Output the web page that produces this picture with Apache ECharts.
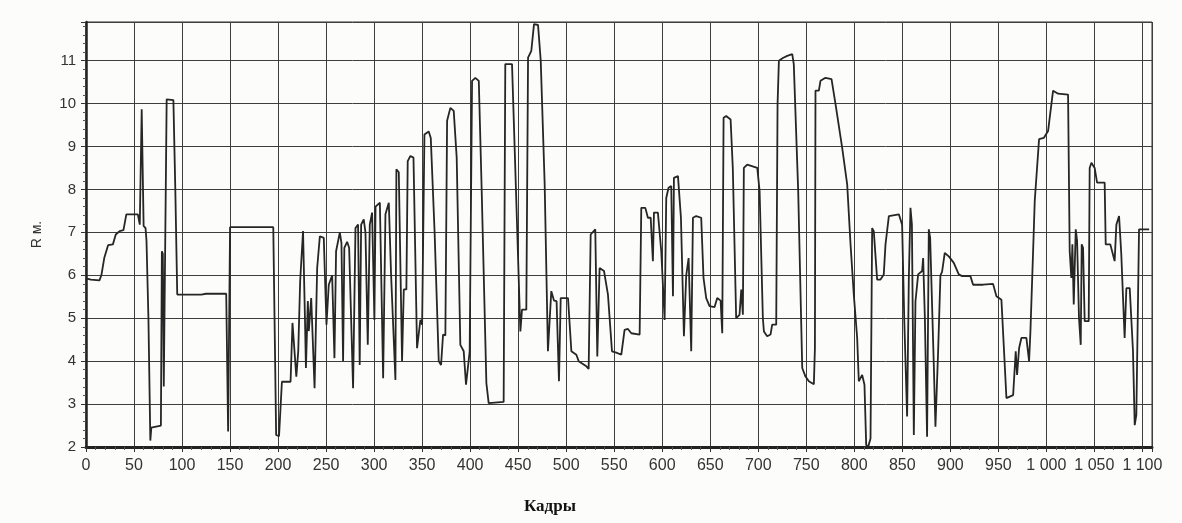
<!DOCTYPE html>
<html>
<head>
<meta charset="utf-8">
<script src="https://cdn.jsdelivr.net/npm/echarts@6/dist/echarts.min.js"></script>
<style>
  html, body { margin: 0; padding: 0; background: #fcfcfb; }
  #chart { width: 1182px; height: 523px; }
</style>
</head>
<body>
<div id="chart"></div>
<script>
// кадры (frame numbers) and R, m
var frames = [
  0, 5, 14, 16, 19, 23, 28, 31, 35, 39, 42, 54, 56, 58, 60, 62, 63, 65, 67, 68,
  70, 78, 79, 80, 81, 84, 91, 93, 95, 120, 125, 146, 148, 150, 195, 198, 201, 204, 213, 215,
  217, 219, 221, 223, 226, 228, 229, 231, 232, 234.5, 238, 240.7, 243.5, 247.6, 250.4, 252.8, 256.3, 258.7, 260.4, 264.3,
  266, 267.7, 269, 271.9, 274, 278.1, 280.6, 283.3, 285, 286.5, 289.2, 291, 293.4, 295.5, 297.9, 300.3, 301.5, 306, 309.4, 311.8,
  315.3, 317.7, 322.2, 323.2, 325.7, 329.1, 330.9, 333.6, 335, 337.8, 341, 344.7, 348.2, 350, 352.4, 356.9, 359, 363, 367.3, 369.7,
  371.8, 374.2, 376, 379.4, 382.9, 386, 389.8, 393.3, 395.7, 397.4, 399.5, 402, 405.4, 409, 412, 416.9, 419.3, 434.9, 436.6, 443.6,
  447, 452.3, 454, 458.5, 460.3, 463.7, 466.5, 470.7, 473.5, 477.6, 481, 484.5, 487.3, 490, 492.5, 494.3, 501.9, 505.4, 510.6, 513,
  521, 523.4, 525.5, 530.3, 532.4, 534.8, 539.4, 543.5, 547.7, 552.2, 557.4, 560.8, 564.3, 567.8, 576.5, 578.2, 582.4, 585.1, 588, 590.3,
  591.4, 595.5, 599, 602.5, 604.2, 606.6, 609.4, 611.2, 612.2, 616.4, 619.5, 622.6, 625, 627.5, 630.2, 632, 635.4, 640.6, 643, 645.8,
  649.3, 654.5, 657.3, 660.8, 662.5, 663.9, 666.6, 671.2, 673.5, 677, 680.5, 682.3, 684, 685, 688.5, 699, 701.4, 704.8, 705.9, 709.3,
  712.8, 714.5, 718.7, 720.1, 721.5, 725.6, 730.2, 735.4, 737, 741.6, 745.8, 749.2, 752.7, 757.9, 759, 759.6, 763.1, 764.8, 770, 776.3,
  780.5, 787.4, 792.6, 796.1, 799.5, 803, 804.7, 808.2, 810.6, 812.4, 814.4, 816.9, 818.6, 820.3, 823.8, 827.3, 830.7, 832.5, 836, 846.4,
  849.8, 852, 855, 856.8, 858.5, 860, 862, 863.7, 866.5, 870.6, 871.7, 873.5, 875.8, 877.6, 879, 882.8, 884.5, 887.3, 889.7, 891.4,
  894.2, 898.4, 903.6, 908.8, 912.3, 920.9, 923.7, 934.1, 944.5, 948, 953.2, 955.6, 958.4, 960.2, 965.4, 968.1, 969.5, 971.6, 974, 979.2,
  982, 983.4, 986.2, 987.9, 990.3, 992.4, 997.3, 1001.8, 1003.5, 1007, 1012.2, 1022.6, 1024.3, 1026, 1027.1, 1028.5, 1030.6, 1032, 1034, 1035.8,
  1036.8, 1038.2, 1039.9, 1044.1, 1045.1, 1046.9, 1050.3, 1052.8, 1060.7, 1061.8, 1066.6, 1069.4, 1071.1, 1072.9, 1075.7, 1078, 1081.5, 1083.3, 1086.8, 1090.2,
  1092, 1093.7, 1095.4, 1096.5, 1107
];
var rValues = [
  5.93, 5.9, 5.88, 6.0, 6.4, 6.7, 6.72, 6.95, 7.03, 7.05, 7.42, 7.42, 7.18, 9.87, 7.15, 7.1, 6.8, 5.0, 2.15, 2.45,
  2.47, 2.5, 6.56, 6.5, 3.41, 10.1, 10.08, 8.0, 5.55, 5.55, 5.57, 5.57, 2.36, 7.12, 7.12, 2.28, 2.25, 3.52, 3.52, 4.89,
  4.89, 3.64, 4.23, 5.86, 7.03, 5.0, 3.84, 5.4, 4.7, 5.47, 3.37, 6.17, 6.91, 6.87, 4.85, 5.78, 6.0, 4.07, 6.56, 7.0,
  6.75, 4.0, 6.64, 6.78, 6.64, 3.37, 7.1, 7.18, 3.91, 7.18, 7.3, 7.0, 4.38, 7.18, 7.46, 4.96, 7.6, 7.69, 3.6, 7.42,
  7.69, 6.0, 3.56, 8.47, 8.4, 4.0, 5.67, 5.67, 8.66, 8.78, 8.74, 4.3, 4.96, 4.85, 9.28, 9.35, 9.2, 7.0, 4.0, 3.91,
  4.62, 4.6, 9.6, 9.9, 9.83, 8.74, 4.38, 4.23, 3.45, 3.41, 4.22, 10.53, 10.6, 10.53, 8.0, 3.49, 3.02, 3.05, 10.92, 10.92,
  8.5, 4.69, 5.2, 5.2, 11.07, 11.23, 11.85, 11.83, 11.0, 8.12, 4.23, 5.63, 5.41, 5.4, 3.53, 5.47, 5.47, 4.23, 4.15, 4.0,
  3.88, 3.82, 6.95, 7.07, 4.11, 6.17, 6.1, 5.55, 4.23, 4.2, 4.15, 4.73, 4.75, 4.65, 4.62, 7.57, 7.57, 7.34, 7.34, 6.33,
  7.46, 7.46, 6.56, 4.96, 7.8, 8.04, 8.08, 5.51, 8.27, 8.31, 7.34, 4.58, 6.0, 6.4, 4.23, 7.34, 7.38, 7.34, 5.94, 5.47,
  5.28, 5.26, 5.47, 5.41, 4.65, 9.67, 9.71, 9.63, 8.5, 5.0, 5.08, 5.67, 5.08, 8.5, 8.58, 8.5, 7.96, 5.0, 4.69, 4.58,
  4.62, 4.85, 4.85, 9.98, 11.0, 11.06, 11.11, 11.15, 10.92, 7.96, 3.84, 3.64, 3.53, 3.46, 4.3, 10.3, 10.3, 10.53, 10.6, 10.57,
  9.98, 8.97, 8.12, 6.72, 5.55, 4.54, 3.53, 3.68, 3.45, 2.05, 2.0, 2.2, 7.1, 7.03, 5.9, 5.9, 6.02, 6.72, 7.38, 7.42,
  7.18, 5.0, 2.71, 5.94, 7.57, 7.18, 2.28, 5.39, 6.02, 6.1, 6.4, 5.0, 2.24, 7.07, 6.87, 3.91, 2.47, 4.23, 6.0, 6.08,
  6.52, 6.44, 6.29, 6.02, 5.98, 5.98, 5.78, 5.78, 5.8, 5.51, 5.43, 4.38, 3.14, 3.18, 3.21, 4.23, 3.68, 4.3, 4.54, 4.54,
  4.0, 4.69, 6.56, 7.73, 8.5, 9.17, 9.2, 9.36, 9.67, 10.3, 10.23, 10.21, 6.56, 5.94, 6.72, 5.32, 7.07, 6.8, 5.0, 4.38,
  6.72, 6.64, 4.93, 4.93, 8.5, 8.62, 8.5, 8.16, 8.16, 6.72, 6.72, 6.48, 6.33, 7.18, 7.38, 6.5, 4.54, 5.7, 5.7, 4.23,
  2.51, 2.75, 2.77, 7.07, 7.07
];

var points = frames.map(function (f, i) { return [f, rValues[i]]; });

var myChart = echarts.init(document.getElementById('chart'));

var labelFont = { fontFamily: 'Liberation Sans, Arial, sans-serif', color: '#333' };

var option = {
  backgroundColor: '#fcfcfb',
  animation: false,
  grid: {
    left: 86, right: 30, top: 22, bottom: 76,
    show: true, borderColor: '#333', borderWidth: 1
  },
  xAxis: {
    type: 'value',
    min: 0, max: 1110, interval: 50,
    axisLine: { onZero: false, lineStyle: { color: '#222', width: 3 } },
    axisTick: { show: true, length: 5, lineStyle: { color: '#333', width: 1 } },
    minorTick: { show: true, splitNumber: 5, length: 3, lineStyle: { color: '#555' } },
    splitLine: { show: true, lineStyle: { color: '#3e3e3e', width: 1 } },
    axisLabel: Object.assign({
      margin: 11,
      fontSize: 16,
      showMaxLabel: false,
      formatter: function (v) {
        if (v % 50 !== 0) return '';
        return v >= 1000 ? String(v).replace(/^(\d)(\d{3})$/, '$1 $2') : String(v);
      }
    }, labelFont)
  },
  yAxis: {
    type: 'value',
    min: 2, max: 11.9, interval: 1,
    name: 'R м.',
    nameLocation: 'middle',
    nameGap: 42,
    nameRotate: 90,
    nameTextStyle: { fontFamily: 'Liberation Sans, Arial, sans-serif', fontSize: 14, color: '#333' },
    axisLine: { lineStyle: { color: '#222', width: 2.5 } },
    axisTick: { show: true, length: 5, lineStyle: { color: '#333', width: 1 } },
    minorTick: { show: true, splitNumber: 5, length: 3, lineStyle: { color: '#555' } },
    splitLine: { show: true, lineStyle: { color: '#3e3e3e', width: 1 } },
    axisLabel: Object.assign({
      margin: 10,
      fontSize: 15,
      showMaxLabel: false,
      formatter: function (v) { return Number.isInteger(v) ? String(v) : ''; }
    }, labelFont)
  },
  graphic: [{
    type: 'text',
    left: 524, top: 498,
    style: {
      text: 'Кадры',
      font: 'bold 17px "Liberation Serif", "Times New Roman", serif',
      fill: '#111'
    }
  }],
  series: [{
    type: 'line',
    data: points,
    showSymbol: false,
    symbol: 'none',
    lineStyle: { color: '#262626', width: 1.8 },
    clip: true
  }]
};
myChart.setOption(option);
</script>
</body>
</html>
